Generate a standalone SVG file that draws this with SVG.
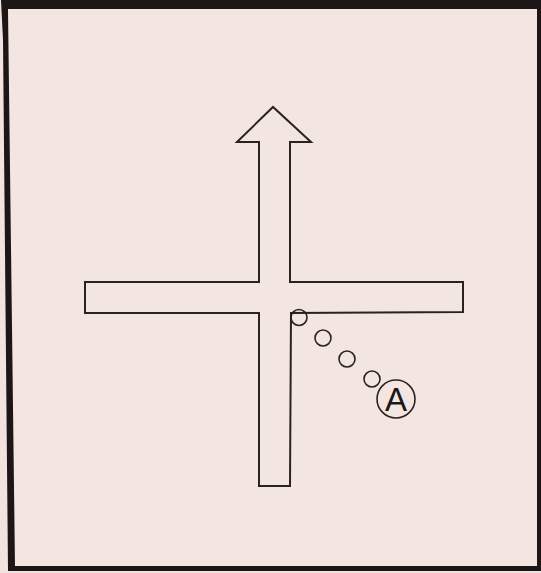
<svg xmlns="http://www.w3.org/2000/svg" width="541" height="573" viewBox="0 0 541 573">
<style>
.ln{fill:none;stroke:#2a2222;stroke-width:2;stroke-linejoin:miter}
.dot{fill:none;stroke:#2a2222;stroke-width:1.6}
</style>
<rect x="0" y="0" width="541" height="573" fill="#f1e4de"/>
<g id="frame">
<polygon points="1,0 541,0 541,571 8,571 3,40" fill="#1c1616"/>
<polygon points="8,9 537,9 537,566 15,566" fill="#f3e6e0"/>
</g>
<g id="cross">
<path class="ln" d="M259,142 L237,142 L273,107 L311,142 L290,142 L290,282 L463,282 L463,312 L291,313 L290,486 L259,486 L259,313 L85,313 L85,282 L259,282 Z"/>
</g>
<g id="dots">
<circle class="dot" cx="299" cy="317.5" r="8"/>
<circle class="dot" cx="323" cy="338" r="8"/>
<circle class="dot" cx="347" cy="359" r="8"/>
<circle class="dot" cx="372" cy="379" r="8"/>
</g>
<g id="labelA">
<circle class="dot" cx="396" cy="399" r="19"/>
<text x="396" y="411" text-anchor="middle" font-family="Liberation Sans, Arial, sans-serif" font-size="33" fill="#1c1616">A</text>
</g>
</svg>
